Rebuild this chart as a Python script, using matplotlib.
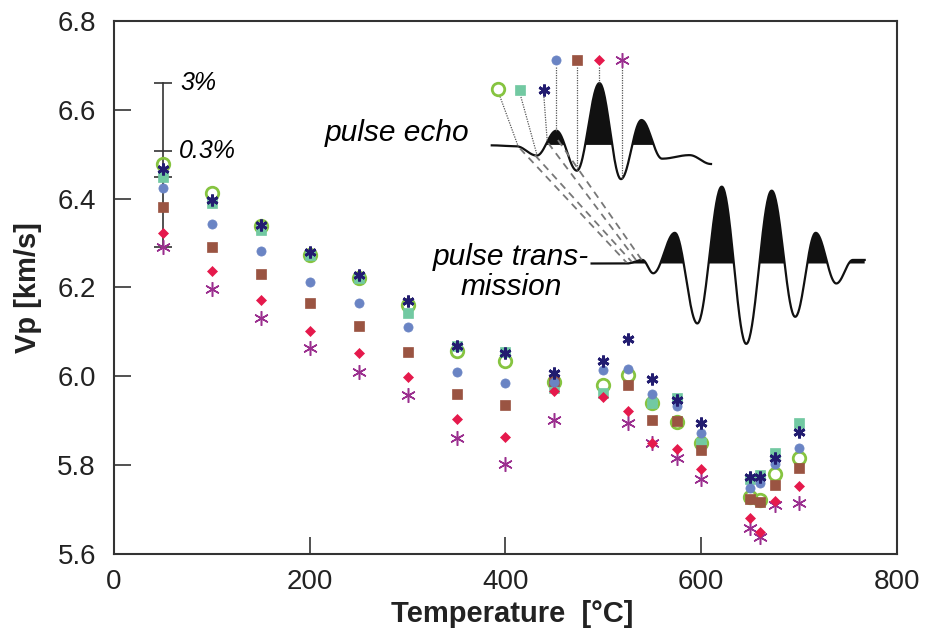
import matplotlib

matplotlib.use("Agg")
import matplotlib.pyplot as plt
import numpy as np

plt.rcParams["font.family"] = ["Liberation Sans", "DejaVu Sans"]

# measured temperatures [°C]
temps = [50, 100, 150, 200, 250, 300, 350, 400, 450, 500, 525, 550, 575, 600, 650, 660, 675, 700]
nan = np.nan

vp_green = [6.478, 6.412, 6.339, 6.273, 6.221, 6.161, 6.056, 6.035, 5.988, 5.980, 6.003,
            5.939, 5.898, 5.849, 5.728, 5.722, 5.780, 5.817]
vp_teal = [6.448, 6.390, 6.329, 6.273, 6.221, 6.142, 6.068, 6.055, 5.973, 5.962, nan,
           5.940, 5.951, 5.850, 5.768, 5.778, 5.827, 5.896]
vp_navy = [6.466, 6.396, 6.340, 6.281, 6.228, 6.170, 6.068, 6.053, 6.007, 6.035, 6.083,
           5.993, 5.947, 5.896, 5.773, 5.773, 5.815, 5.875]
vp_blue = [6.423, 6.342, 6.283, 6.212, 6.166, 6.110, 6.009, 5.986, 5.987, 6.014, 6.017,
           5.960, 5.933, 5.872, 5.748, 5.759, 5.803, 5.839]
vp_brown = [6.382, 6.292, 6.230, 6.164, 6.113, 6.054, 5.960, 5.935, 5.990, nan, 5.980,
            5.901, 5.900, 5.834, 5.724, 5.716, 5.755, 5.793]
vp_red = [6.323, 6.237, 6.172, 6.101, 6.052, 5.999, 5.905, 5.864, 5.967, 5.954, 5.922,
          5.849, 5.836, 5.791, 5.680, 5.649, 5.720, 5.753]
vp_purple = [6.292, 6.196, 6.131, 6.063, 6.010, 5.958, 5.860, 5.803, 5.902, nan, 5.894,
             5.849, 5.815, 5.769, 5.658, 5.639, 5.710, 5.714]

# error bar at 50 °C (3% / 0.3%)
err_t = 50
err_levels = [6.660, 6.508, 6.448, 6.292]

# schematic waveforms (extrema, in axis units)
echo_t = [386, 411, 432, 452, 473, 496, 518, 539, 560, 588, 610]
echo_v = [6.520, 6.518, 6.497, 6.553, 6.463, 6.660, 6.444, 6.577, 6.490, 6.498, 6.478]
echo_base = 6.521
trans_t = [488, 524, 540, 551, 573, 596, 621, 646, 672, 696, 717, 738, 755, 767]
trans_v = [6.254, 6.254, 6.262, 6.232, 6.323, 6.119, 6.427, 6.073, 6.418, 6.134, 6.323,
           6.209, 6.262, 6.262]
trans_base = 6.254

# picks on the echo (legend markers and their pointer lines)
pick_marker_t = [392.6, 414.8, 439.3, 451.3, 473.4, 495.8, 518.7]
pick_marker_v = [6.646, 6.645, 6.645, 6.712, 6.712, 6.712, 6.712]
pick_line_start_t = [394.4, 415.8, 439.3, 451.6, 473.4, 495.8, 518.7]
pick_line_start_v = [6.630, 6.629, 6.629, 6.697, 6.697, 6.697, 6.697]
pick_line_end_t = [413.1, 431.9, 442.7, 451.6, 473.4, 495.8, 518.7]
pick_line_end_v = [6.517, 6.501, 6.528, 6.553, 6.463, 6.660, 6.444]

link_start_t = [414.8, 430.1, 443.7, 453.6]
link_start_v = [6.513, 6.498, 6.525, 6.532]
link_end_t = [523.8, 528.9, 534.0, 539.2]
link_end_v = [6.256, 6.258, 6.260, 6.262]

series = [
    # values, marker, size, face, edge, mew
    (vp_green, "o", 9.0, "none", "#86c440", 2.0),
    (vp_teal, "s", 7.2, "#72c9a2", "#72c9a2", 0.5),
    (vp_purple, (6, 2, 0), 10.5, "#9b2f8f", "#9b2f8f", 1.1),
    (vp_red, "D", 5.0, "#e5194c", "#e5194c", 0.5),
    (vp_brown, "s", 7.0, "#9a5442", "#9a5442", 0.5),
    (vp_blue, "o", 6.6, "#6a84c4", "#6a84c4", 0.5),
    (vp_navy, (6, 2, 0), 8.5, "#221c70", "#221c70", 2.0),
]


def _wave(kt, kv, n=40):
    xs, ys = [], []
    for i in range(len(kt) - 1):
        s = np.linspace(0, 1, n, endpoint=False)
        w = (1 - np.cos(np.pi * s)) / 2
        xs.extend(kt[i] + (kt[i + 1] - kt[i]) * s)
        ys.extend(kv[i] + (kv[i + 1] - kv[i]) * w)
    xs.append(kt[-1])
    ys.append(kv[-1])
    return np.array(xs), np.array(ys)


fig = plt.figure(figsize=(9.25, 6.38), dpi=100)
ax = fig.add_axes([0.1232, 0.1317, 0.8465, 0.8354])

# waveforms
ex, ey = _wave(echo_t, echo_v)
ax.fill_between(ex, echo_base, ey, where=(ey > echo_base) & (ex > 440),
                color="#111111", interpolate=True, lw=0)
ax.plot(ex, ey, color="#111111", lw=1.6)
ax.plot([ex[0] - 0, ex[0]], [echo_base, echo_base], color="#111111", lw=1.6)
tx, ty = _wave(trans_t, trans_v)
ax.fill_between(tx, trans_base, ty, where=ty > trans_base,
                color="#111111", interpolate=True, lw=0)
ax.plot(tx, ty, color="#111111", lw=1.6)

for i in range(len(pick_marker_t)):
    ax.plot([pick_line_start_t[i], pick_line_end_t[i]],
            [pick_line_start_v[i], pick_line_end_v[i]],
            color="#555555", lw=0.9, ls=(0, (1, 1)))
for i in range(len(link_start_t)):
    ax.plot([link_start_t[i], link_end_t[i]], [link_start_v[i], link_end_v[i]],
            color="#777777", lw=1.3, ls=(0, (4, 3)))

# legend markers on the echo, in the same order as series
pick_styles = [series[0], series[1], series[6], series[5], series[4], series[3], series[2]]
for (vals, mk, ms, fc, ec, mew), t, v in zip(pick_styles, pick_marker_t, pick_marker_v):
    ax.plot([t], [v], marker=mk, ms=ms, mfc=fc, mec=ec, mew=mew, ls="none")

# data
for vals, mk, ms, fc, ec, mew in series:
    ax.plot(temps, vals, marker=mk, ms=ms, mfc=fc, mec=ec, mew=mew, ls="none", zorder=3)

# error bar
ax.plot([err_t, err_t], [err_levels[-1], err_levels[0]], color="#333333", lw=1.2, zorder=2)
ax.plot([err_t] * len(err_levels), err_levels, marker="_", ms=13, mew=1.2,
        color="#333333", ls="none", zorder=2)
ax.text(67.4, err_levels[0], "3%", style="italic", fontsize=18, va="center", ha="left")
ax.text(66.4, err_levels[1], "0.3%", style="italic", fontsize=18, va="center", ha="left")

# inset labels
ax.text(215.6, 6.530, "pulse echo", style="italic", fontsize=21.5, ha="left", va="baseline")
ax.text(405.4, 6.251, "pulse trans-", style="italic", fontsize=21.5, ha="center", va="baseline")
ax.text(405.4, 6.183, "mission", style="italic", fontsize=21.5, ha="center", va="baseline")

ax.set_xlim(0, 800)
ax.set_ylim(5.6, 6.8)
ax.set_xticks([0, 200, 400, 600, 800])
ax.set_yticks([5.6, 5.8, 6.0, 6.2, 6.4, 6.6, 6.8])
ax.set_yticklabels([f"{v:.1f}" for v in [5.6, 5.8, 6.0, 6.2, 6.4, 6.6, 6.8]])
ax.tick_params(direction="in", length=12, width=1.1, color="#222222",
               labelsize=20, labelcolor="#222222")
ax.tick_params(axis="y", pad=13)
ax.tick_params(axis="x", pad=11)
for sp in ax.spines.values():
    sp.set_linewidth(1.5)
    sp.set_color("#333333")

ax.set_xlabel("Temperature  [°C]", fontsize=21, fontweight="bold", color="#222222")
ax.set_ylabel("Vp [km/s]", fontsize=21, fontweight="bold", color="#222222")
ax.xaxis.set_label_coords(0.508, -0.086)
ax.yaxis.set_label_coords(-0.092, 0.5)

fig.savefig("out.png", dpi=100)
